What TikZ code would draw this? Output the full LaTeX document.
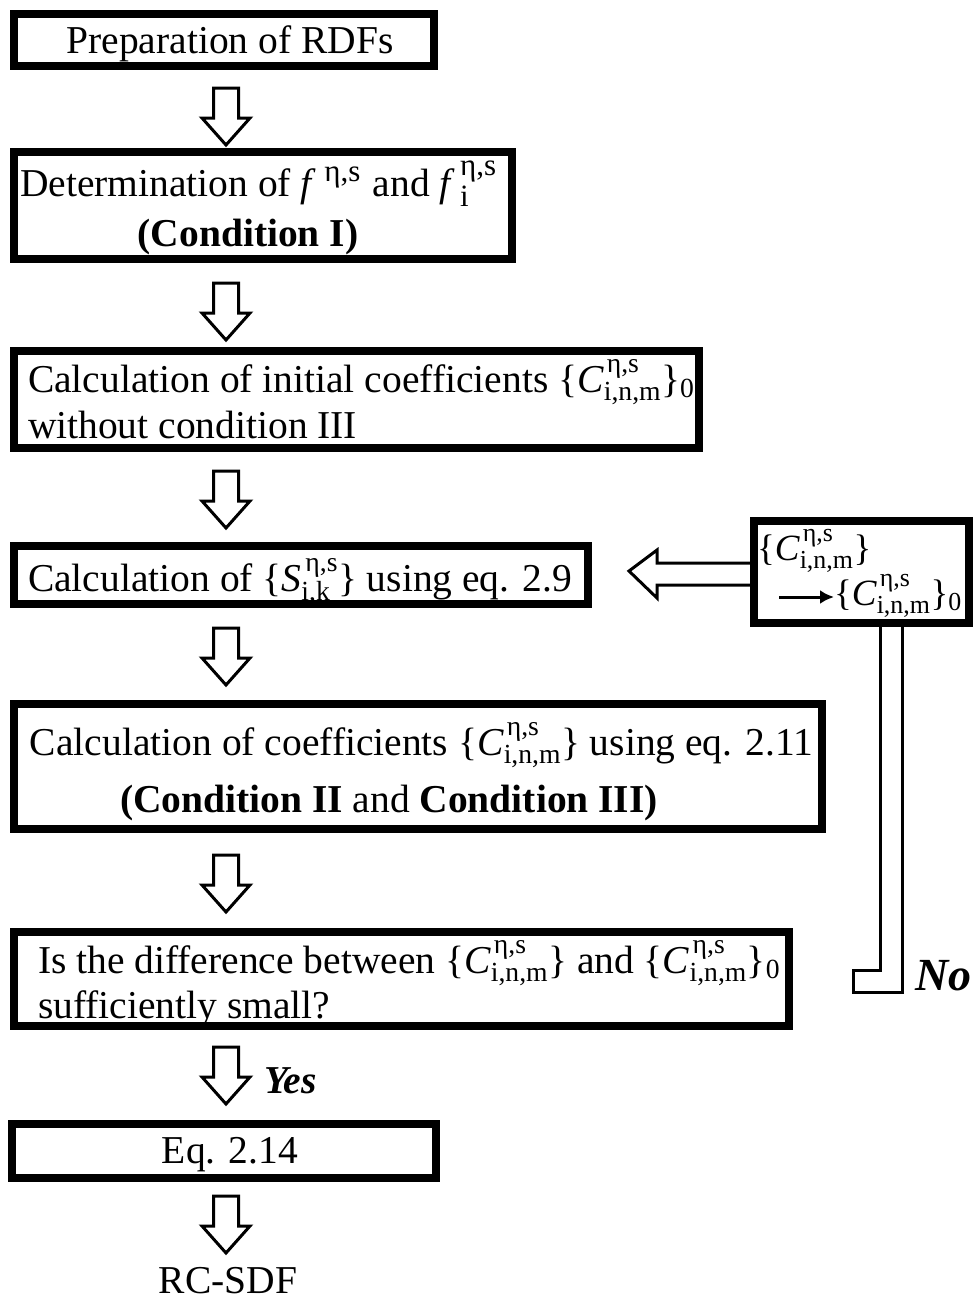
\documentclass[tikz,border=0pt]{standalone}
\usepackage{fix-cm}
\usepackage{amsmath}
\usepackage{fontspec}
\setmainfont{Liberation Serif}
\usetikzlibrary{arrows.meta,calc}
\newcommand{\Cnm}{\{\textit{C}$^{\kern3pt\text{η,s}}_{\text{i,n,m}}$\}}
\newcommand{\Cnmz}{\{\textit{C}$^{\kern3pt\text{η,s}}_{\text{i,n,m}}$\}$_{\text{0}}$}
\newcommand{\bigsc}[1]{\text{\fontsize{31}{31}\selectfont #1}}
\tikzset{
  box/.style={draw, line width=8pt, inner sep=0pt, outer sep=0pt, anchor=north west},
  txt/.style={inner sep=0pt, outer sep=0pt, font=\fontsize{39.5}{46}\selectfont},
  rtxt/.style={inner sep=0pt, outer sep=0pt, font=\fontsize{37}{44}\selectfont},
  blk/.style={draw, line width=3pt, line join=miter, fill=white},
  conn/.style={draw, line width=3pt, line join=miter}
}
\newcommand{\blockdown}[1]{\draw[blk] (#1) ++(-12.5,0) -- ++(0,-30) -- ++(-11.5,0) -- ++(24,-27) -- ++(24,27) -- ++(-11.5,0) -- ++(0,30) -- cycle;}
\begin{document}
\begin{tikzpicture}[x=1pt,y=1pt]
\useasboundingbox (0,0) rectangle (973,-1302);
% boxes
\node[box, minimum width=420, minimum height=52] (b1) at (14,-14) {};
\node[box, minimum width=498, minimum height=107] (b2) at (14,-152) {};
\node[box, minimum width=685, minimum height=97] (b3) at (14,-351) {};
\node[box, minimum width=574, minimum height=58] (b4) at (14,-546) {};
\node[box, minimum width=808, minimum height=125] (b5) at (14,-704) {};
\node[box, minimum width=775, minimum height=94] (b6) at (14,-932) {};
\node[box, minimum width=424, minimum height=54] (b7) at (12,-1124) {};
% texts
\node[txt, anchor=base] (t1) at (230,-53) {Preparation of RDFs};
\node[txt, anchor=base west] (t2a) at (20,-196) {Determination of \textit{f}$^{\kern8pt\bigsc{η,s}}$\kern2pt{} and \textit{f}$^{\kern5pt\bigsc{η,s}}_{\kern5pt\bigsc{i}}$};
\node[txt, anchor=base] (t2b) at (248,-246) {\textbf{(Condition I)}};
\node[txt, anchor=base west] (t3a) at (28,-392) {Calculation of initial coefficients \Cnmz};
\node[txt, anchor=base west] (t3b) at (28,-438) {without condition III};
\node[txt, anchor=base west] (t4) at (28,-591) {Calculation of \{\textit{S}$^{\kern4pt\text{η,s}}_{\text{i,k}}$\} using eq. 2.9};
\node[txt, anchor=base west] (t5a) at (30,-755) {Calculation of coefficients \Cnm{} using eq. 2.11};
\node[txt, anchor=base] (t5b) at (389,-812) {\textbf{(Condition II} and \textbf{Condition III)}};
\node[txt, anchor=base west] (t6a) at (38,-973) {Is the difference between \Cnm{} and \Cnmz};
\node[txt, anchor=base west] (t6b) at (38,-1018) {sufficiently small?};
\node[txt, anchor=base] (t7) at (230,-1163) {Eq. 2.14};
\node[txt, anchor=base] (t8) at (228,-1293) {RC-SDF};
\node[txt, anchor=base west] (yes) at (264,-1093) {\textbf{\textit{Yes}}};
\node[txt, anchor=base west, font=\fontsize{46}{52}\selectfont] (no) at (915,-990) {\textbf{\textit{No}}};
% block arrows
\coordinate (a1) at (226,-88);
\coordinate (a2) at (226,-283);
\coordinate (a3) at (226,-471);
\coordinate (a4) at (226,-628);
\coordinate (a5) at (226,-855);
\coordinate (a6) at (226,-1047);
\coordinate (a7) at (226,-1196);
\blockdown{a1}
\blockdown{a2}
\blockdown{a3}
\blockdown{a4}
\blockdown{a5}
\blockdown{a6}
\blockdown{a7}
% feedback
\coordinate (lt) at ($(b4.east)+(41,4)$);
\draw[blk] (752,-563) -- (657,-563) -- (657,-550) -- (lt) -- (657,-598) -- (657,-585) -- (752,-585);
\draw[conn] (880,-623) -- (880,-970) -- (853,-970) -- (853,-992) -- (902,-992) -- (902,-623);
\node[box, fill=white, minimum width=215, minimum height=102] (rb) at (754,-521) {};
\node[rtxt, anchor=base west] (r1) at (757,-560) {\Cnm};
\node[rtxt, anchor=base west] (r2) at (834,-605) {\Cnmz};
\coordinate (ra) at (779,-597);
\draw[line width=3pt, -{Latex[length=14pt,width=14pt]}] (ra) -- (r2.west |- ra);
\end{tikzpicture}
\end{document}
